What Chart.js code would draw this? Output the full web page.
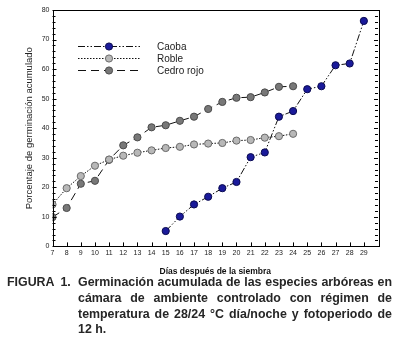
<!DOCTYPE html>
<html>
<head>
<meta charset="utf-8">
<script src="https://cdn.jsdelivr.net/npm/chart.js@4"></script>
<style>
  html,body{margin:0;padding:0;background:#fff;}
  #wrap{position:relative;width:396px;height:342px;overflow:hidden;}
  #c{position:absolute;left:0;top:0;}
  #cap{position:absolute;left:7px;top:275px;width:385px;font-family:"Liberation Sans",Arial,sans-serif;font-weight:bold;font-size:12.4px;line-height:15.8px;color:#262626;}
  #cap .row{display:flex;}
  #cap .lab{flex:0 0 71px;white-space:nowrap;word-spacing:3px;}
  #cap .txt{flex:1;text-align:justify;}
</style>
</head>
<body>
<div id="wrap">
<canvas id="c" width="396" height="277"></canvas>
<div id="cap"><div class="row"><div class="lab">FIGURA 1.</div><div class="txt">Germinación acumulada de las especies arbóreas en cámara de ambiente controlado con régimen de temperatura de 28/24 °C día/noche y fotoperiodo de 12 h.</div></div></div>
</div>
<script>
const caobaDays = [15,16,17,18,19,20,21,22,23,24,25,26,27,28,29];
const caobaVals = [5.2,10.1,14.2,16.8,19.7,21.8,30.2,31.8,43.9,45.8,53.2,54.2,61.3,61.9,76.3];
const robleDays = [7,8,9,10,11,12,13,14,15,16,17,18,19,20,21,22,23,24];
const robleVals = [14.2,19.7,23.8,27.3,29.4,30.7,31.7,32.5,33.3,33.7,34.5,34.8,35.0,35.8,36.0,36.8,37.3,38.1];
const cedroDays = [7,8,9,10,11,12,13,14,15,16,17,18,19,20,21,22,23,24];
const cedroVals = [9.9,13.0,21.2,22.2,29.3,34.2,36.9,40.3,41.0,42.5,43.9,46.5,48.9,50.3,50.5,52.1,54.0,54.2];
const seriesNames = ["Caoba","Roble","Cedro rojo"];
const xTickLabels = [7,8,9,10,11,12,13,14,15,16,17,18,19,20,21,22,23,24,25,26,27,28,29];
const yTickLabels = [0,10,20,30,40,50,60,70,80];

const pts = (d,v)=>d.map((x,i)=>({x:x,y:v[i]}));
const styles = [
  {bg:'#1a1a9a', bd:'#0a0a50', dash:[7,2,1.5,2,1.5,2]},
  {bg:'#b8b8b8', bd:'#6a6a6a', dash:[1.5,1.5]},
  {bg:'#787878', bd:'#4a4a4a', dash:[8,5]}
];
const datasets = [pts(caobaDays,caobaVals),pts(robleDays,robleVals),pts(cedroDays,cedroVals)].map((data,i)=>({
  label: seriesNames[i], data: data,
  borderColor:'#111', borderWidth:1, borderDash:styles[i].dash,
  pointBackgroundColor:styles[i].bg, pointBorderColor:styles[i].bd, pointBorderWidth:1,
  pointRadius:3.6, tension:0, fill:false
}));

const FONT = '"Liberation Sans", Arial, sans-serif';

const frame = {
  id:'frame',
  afterDatasetsDraw(chart){
    const ctx = chart.ctx, a = chart.chartArea;
    const xs = chart.scales.x, ys = chart.scales.y;
    ctx.save();
    ctx.strokeStyle = '#000'; ctx.lineWidth = 1; ctx.setLineDash([]);
    ctx.strokeRect(Math.round(a.left)+0.5, Math.round(a.top)+0.5, Math.round(a.right-a.left), Math.round(a.bottom-a.top));
    ctx.beginPath();
    for (let v=0; v<=80; v+=2){
      const y = Math.round(ys.getPixelForValue(v))+0.5;
      const L = (v%10===0)?4:3;
      ctx.moveTo(a.left, y); ctx.lineTo(a.left+L, y);
      ctx.moveTo(a.right, y); ctx.lineTo(a.right-L, y);
    }
    xTickLabels.forEach(v=>{
      const x = Math.round(xs.getPixelForValue(v))+0.5;
      ctx.moveTo(x, a.bottom); ctx.lineTo(x, a.bottom-4);
    });
    ctx.stroke();
    // legend
    const ly = [46,58,70];
    ctx.font = '10px '+FONT; ctx.textBaseline='middle'; ctx.fillStyle='#222';
    chart.data.datasets.forEach((ds,i)=>{
      ctx.beginPath(); ctx.strokeStyle='#111'; ctx.setLineDash(styles[i].dash);
      ctx.moveTo(78, ly[i]+0.5); ctx.lineTo(140, ly[i]+0.5); ctx.stroke();
      ctx.setLineDash([]);
      ctx.beginPath(); ctx.arc(109, ly[i]+0.5, 3.6, 0, Math.PI*2);
      ctx.fillStyle = styles[i].bg; ctx.fill(); ctx.strokeStyle = styles[i].bd; ctx.stroke();
      ctx.fillStyle='#222'; ctx.fillText(ds.label, 157, ly[i]+1);
    });
    ctx.restore();
  }
};

new Chart(document.getElementById('c'), {
  type:'line',
  data:{datasets:datasets},
  options:{
    responsive:false, animation:false, devicePixelRatio:1,
    layout:{padding:{left:0,right:18,top:10,bottom:0}},
    plugins:{legend:{display:false}, tooltip:{enabled:false}},
    scales:{
      x:{type:'linear', min:7, max:30,
        afterBuildTicks(s){ s.ticks = xTickLabels.map(v=>({value:v})); },
        ticks:{font:{size:7, family:FONT}, color:'#222', padding:2, maxRotation:0, autoSkip:false},
        grid:{display:false, drawTicks:false},
        border:{display:false},
        title:{display:true, text:'Días después de la siembra', font:{size:8.5, weight:'bold', family:FONT}, color:'#111', padding:{top:8,bottom:0}}
      },
      y:{type:'linear', min:0, max:80,
        afterBuildTicks(s){ s.ticks = yTickLabels.map(v=>({value:v})); },
        afterFit(s){ s.width = 52.5; },
        ticks:{font:{size:7, family:FONT}, color:'#222', padding:3},
        grid:{display:false, drawTicks:false},
        border:{display:false},
        title:{display:true, text:'Porcentaje de germinación acumulado', font:{size:9.5, family:FONT}, color:'#222', padding:{top:24,bottom:0}}
      }
    }
  },
  plugins:[frame]
});
</script>
</body>
</html>
